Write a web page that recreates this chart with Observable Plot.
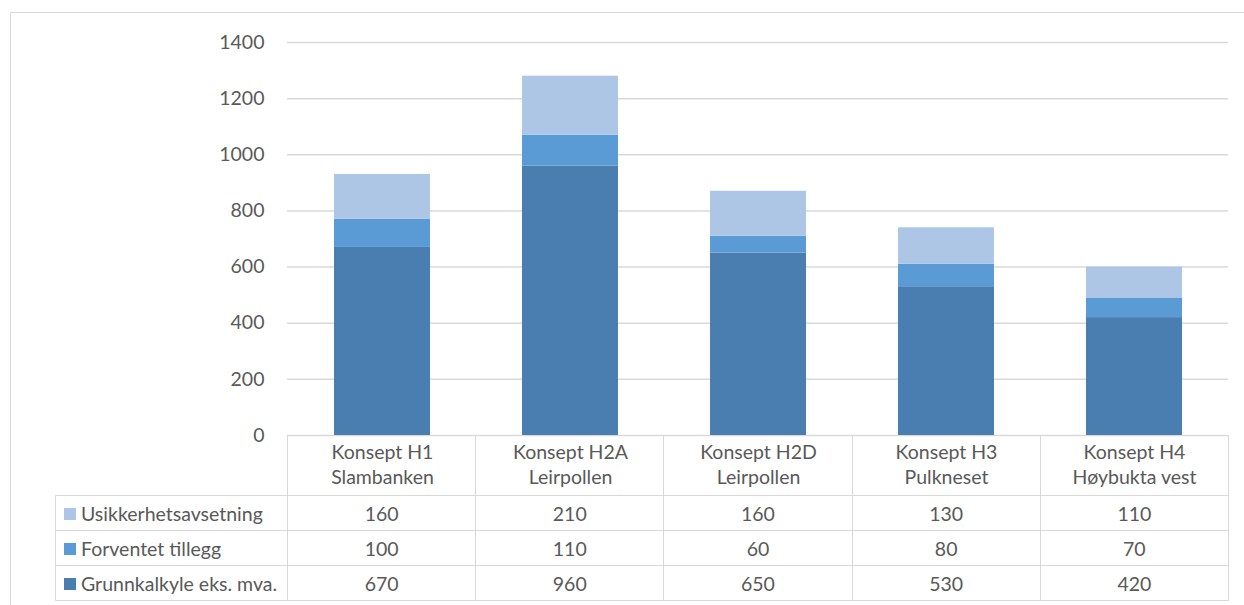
<!DOCTYPE html>
<html><head><meta charset="utf-8">
<script src="https://cdn.jsdelivr.net/npm/d3@7"></script>
<script src="https://cdn.jsdelivr.net/npm/@observablehq/plot@0.6"></script>
<style>
body{margin:0;background:#fff;}
#wrap{position:relative;width:1244px;height:605px;overflow:hidden;font-family:Lato,sans-serif;color:#595959;}
#border{position:absolute;left:10px;top:12px;width:1400px;height:800px;border:1.5px solid #d9d9d9;}
#chart{position:absolute;left:0;top:0;}
#chart svg{overflow:visible;}
table{position:absolute;left:55px;top:435px;border-collapse:collapse;font-size:19.5px;table-layout:fixed;font-family:Lato,sans-serif;color:#595959;}
td{border:1.5px solid #d9d9d9;padding:0;text-align:center;white-space:nowrap;}
tr.h td{height:59px;}
tr.r td{height:34px;}
td.blank{border-top:none;border-left:none;}
td.lab{text-align:left;padding-left:8px;}
.key{display:inline-block;width:12px;height:12px;margin-right:5px;vertical-align:1px;}
</style></head>
<body>
<div id="wrap"><div id="border"></div><div id="chart"></div><table id="tbl"></table></div>
<script>
const categories = ["Konsept H1\nSlambanken","Konsept H2A\nLeirpollen","Konsept H2D\nLeirpollen","Konsept H3\nPulkneset","Konsept H4\nHøybukta vest"];
const series = ["Grunnkalkyle eks. mva.","Forventet tillegg","Usikkerhetsavsetning"];
const grunnkalkyle = [670,960,650,530,420];
const forventet = [100,110,60,80,70];
const usikkerhet = [160,210,160,130,110];
const colors = ["#4a7eb0","#5b9bd5","#adc6e6"];
const yTicks = [0,200,400,600,800,1000,1200,1400];

const seriesValues = [grunnkalkyle, forventet, usikkerhet];
const data = series.flatMap((s,i)=>categories.map((c,j)=>({cat:c, series:s, value:seriesValues[i][j]})));

const chart = Plot.plot({
  width:1244, height:496,
  marginLeft:287, marginRight:16, marginTop:42, marginBottom:61,
  style:{fontFamily:"Lato, sans-serif", fontSize:"19.5px", color:"#595959", background:"transparent", overflow:"visible"},
  x:{domain:categories, padding:0, label:null},
  y:{domain:[0,1400], label:null},
  color:{domain:series, range:colors},
  marks:[
    Plot.gridY(yTicks,{stroke:"#d9d9d9", strokeOpacity:1, strokeWidth:1.5}),
    Plot.barY(data,{x:"cat", y:"value", fill:"series", insetLeft:46, insetRight:46}),
    Plot.axisY(yTicks,{tickSize:0, tickPadding:23, tickFormat:d=>String(d), fill:"#595959", fontSize:19.5, label:null}),
    Plot.axisX({tickSize:0, tickPadding:5, lineHeight:1.3, fill:"#595959", fontSize:19.5, label:null})
  ]
});
document.getElementById("chart").appendChild(chart);

// data table below the chart
const tbl = document.getElementById("tbl");
const cg = document.createElement("colgroup");
[232,188.2,188.2,188.2,188.2,188.2].forEach(w=>{const c=document.createElement("col");c.style.width=w+"px";cg.appendChild(c);});
tbl.appendChild(cg);
const hr = document.createElement("tr"); hr.className="h";
const b = document.createElement("td"); b.className="blank"; hr.appendChild(b);
categories.forEach(()=>{const td=document.createElement("td"); hr.appendChild(td);});
tbl.appendChild(hr);
[2,1,0].forEach(i=>{
  const tr=document.createElement("tr"); tr.className="r";
  const lab=document.createElement("td"); lab.className="lab";
  const k=document.createElement("span"); k.className="key"; k.style.background=colors[i];
  lab.appendChild(k); lab.appendChild(document.createTextNode(series[i]));
  tr.appendChild(lab);
  seriesValues[i].forEach(v=>{const td=document.createElement("td"); td.textContent=v; tr.appendChild(td);});
  tbl.appendChild(tr);
});
</script>
</body></html>
